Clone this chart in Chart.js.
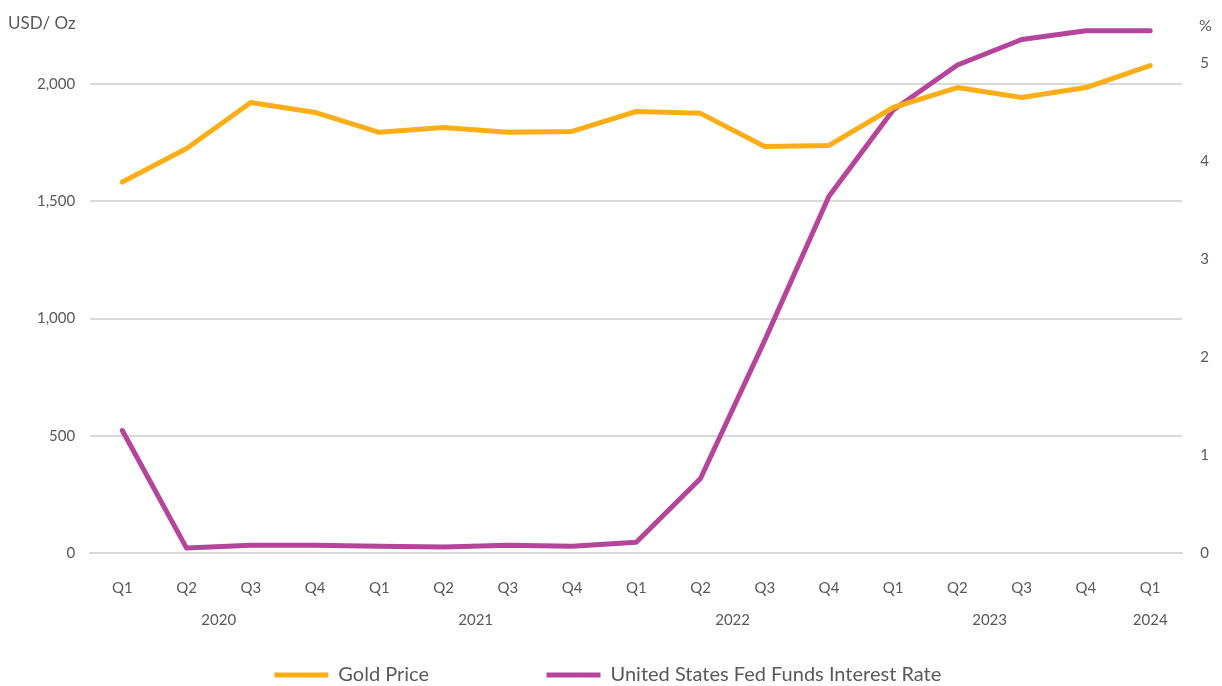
<!DOCTYPE html>
<html>
<head>
<meta charset="utf-8">
<script src="https://cdn.jsdelivr.net/npm/chart.js@4/dist/chart.umd.min.js"></script>
<style>
  html, body { margin: 0; padding: 0; background: #fff; }
  #wrap { position: relative; width: 1222px; height: 686px; }
  .unit { position: absolute; font-family: Lato, "Open Sans", sans-serif; font-size: 16px; color: #595959; }
</style>
</head>
<body>
<div id="wrap">
  <canvas id="goldChart" width="1222" height="686"></canvas>
  <div class="unit" style="left:8px; top:12px; font-size:17px;">USD/ Oz</div>
  <div class="unit" style="left:1199px; top:15px;">%</div>
</div>
<script>
// quarters and years
const quarters = ['Q1','Q2','Q3','Q4','Q1','Q2','Q3','Q4','Q1','Q2','Q3','Q4','Q1','Q2','Q3','Q4','Q1'];
const years = ['2020','2021','2022','2023','2024'];
const yearPos = [1.5, 5.5, 9.5, 13.5, 16];

// gold price, USD/oz
const goldPrice = [1583, 1726, 1922, 1880, 1795, 1816, 1795, 1799, 1884, 1876, 1735, 1739, 1901, 1986, 1944, 1986, 2080];
// fed funds rate, %
const fedRate = [1.25, 0.05, 0.08, 0.08, 0.07, 0.06, 0.08, 0.07, 0.11, 0.76, 2.17, 3.64, 4.52, 4.98, 5.24, 5.33, 5.33];

const tickFont = { family: 'Lato, "Open Sans", sans-serif', size: 15 };
const grey = '#595959';
const clear = 'rgba(0,0,0,0)';

new Chart(document.getElementById('goldChart'), {
    type: 'line',
    data: {
        labels: quarters,
        datasets: [
            { label: 'Gold Price', data: goldPrice, borderColor: '#FBAE17', backgroundColor: '#FBAE17',
              borderWidth: 5, pointRadius: 0, tension: 0, yAxisID: 'y', borderCapStyle: 'round', borderJoinStyle: 'round' },
            { label: 'United States Fed Funds Interest Rate', data: fedRate, borderColor: '#B5449B', backgroundColor: '#B5449B',
              borderWidth: 5, pointRadius: 0, tension: 0, yAxisID: 'y1', borderCapStyle: 'round', borderJoinStyle: 'round' }
        ]
    },
    options: {
        responsive: false,
        animation: false,
        layout: { padding: { top: 14, left: 37, right: 13, bottom: -9 } },
        plugins: {
            tooltip: { enabled: false },
            legend: {
                position: 'bottom',
                labels: {
                    usePointStyle: true, pointStyle: 'line', pointStyleWidth: 54,
                    font: { family: 'Lato, "Open Sans", sans-serif', size: 20 }, color: grey, padding: 22,
                    // wider gap after the first entry, as in the original
                    generateLabels: chart => Chart.defaults.plugins.legend.labels.generateLabels(chart).map((l, i) => {
                        if (i === 0) l.text = l.text + '\u2003\u2003\u2003\u2003\u2003    ';
                        else l.text = l.text + '\u2003   ';
                        return l;
                    })
                }
            }
        },
        scales: {
            x: {
                offset: true,
                grid: { display: true, drawOnChartArea: false, drawTicks: true, tickLength: 26, tickColor: clear },
                border: { color: '#d9d9d9', width: 2 },
                ticks: { color: grey, font: tickFont, padding: 0, maxRotation: 0, autoSkip: false }
            },
            x2: {
                type: 'linear', position: 'bottom', min: -0.5, max: 16.5,
                grid: { display: false, drawTicks: false },
                border: { display: false },
                afterBuildTicks: axis => { axis.ticks = yearPos.map(v => ({ value: v })); },
                ticks: {
                    color: grey, font: tickFont, padding: 14, maxRotation: 0, autoSkip: false,
                    callback: v => years[yearPos.indexOf(v)]
                }
            },
            y: {
                position: 'left', min: 0, max: 2300,
                afterBuildTicks: axis => { axis.ticks = [0, 500, 1000, 1500, 2000, 2300].map(v => ({ value: v })); },
                grid: { color: ctx => ctx.tick && ctx.tick.value % 500 === 0 && ctx.tick.value > 0 ? '#d9d9d9' : clear,
                        lineWidth: 2, drawTicks: true, tickLength: 15, tickColor: clear },
                border: { display: false },
                ticks: { color: grey, font: tickFont, padding: 0,
                         callback: v => v % 500 === 0 ? v.toLocaleString('en-US') : '' }
            },
            y1: {
                position: 'right', min: 0, max: 5.5,
                afterBuildTicks: axis => { axis.ticks = [0, 1, 2, 3, 4, 5].map(v => ({ value: v })); },
                grid: { display: true, drawOnChartArea: false, drawTicks: true, tickLength: 18, tickColor: clear },
                border: { display: false },
                ticks: { color: grey, font: tickFont, padding: 0 }
            }
        }
    }
});
</script>
</body>
</html>
